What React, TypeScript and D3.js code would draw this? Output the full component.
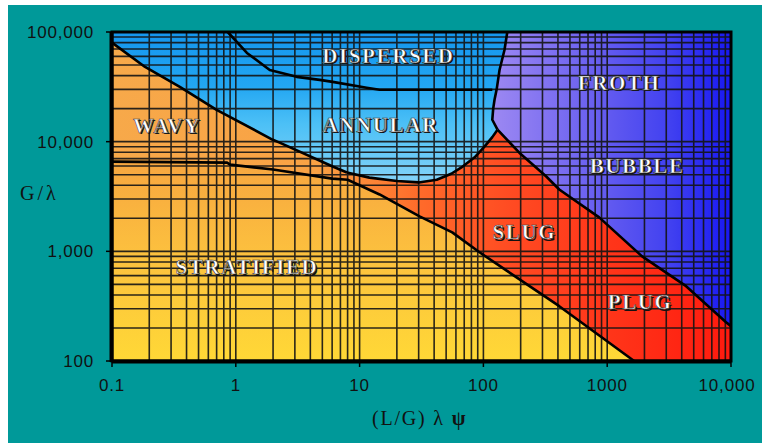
import React from 'react';
import { scaleLog, line, range } from 'd3';

// boundary curves, [x = (L/G)λψ, y = G/λ]
const wavyTop: [number, number][] = [
  [0.1, 80000], [0.185, 48000], [0.353, 31600], [0.7, 19500], [1.99, 10400], [2.26, 9800], [6.06, 5930], [7.9, 5230],
];
const annularBottom: [number, number][] = [
  [7.9, 5230], [12, 4700], [20, 4380], [30, 4250], [42, 4500], [55, 5100], [68, 5930], [85, 7200], [102, 9010], [118, 11000], [130, 12850],
];
const frothLeft: [number, number][] = [
  [130, 12850], [118, 15850], [120, 20000], [123, 24100], [128, 30000], [135, 45000], [148, 68600], [156, 100000],
];
const dispersedLine: [number, number][] = [
  [0.86, 100000], [1.23, 64400], [1.88, 45100], [3.1, 39000], [4.76, 36600], [6.06, 35100], [11.4, 31000], [14.5, 29700], [118, 29700],
];
const slugBubble: [number, number][] = [
  [130, 12850], [195, 7940], [322, 4810], [410, 3660], [861, 2040], [1915, 900], [4339, 481], [9120, 226], [10000, 208],
];
const stratTop: [number, number][] = [
  [0.1, 6580], [0.85, 6440], [0.9, 6180], [2, 5570], [6, 4600], [8, 4500], [14.5, 3300], [30.5, 2080], [56, 1490], [93, 980], [410, 316], [1650, 100],
];

const xTicks = [0.1, 1, 10, 100, 1000, 10000];
const xTickLabels = ['0.1', '1', '10', '100', '1000', '10,000'];
const yTicks = [100, 1000, 10000, 100000];
const yTickLabels = ['100', '1,000', '10,000', '100,000'];

const regionNames = ['DISPERSED', 'ANNULAR', 'WAVY', 'STRATIFIED', 'SLUG', 'PLUG', 'FROTH', 'BUBBLE'];
const regionAt: [number, number][] = [
  [17.1, 52300], [14.8, 12300], [0.278, 12100], [1.23, 618], [214, 1285], [1845, 297], [1250, 29700], [1745, 5230],
];

export default function App() {
  const W = 762, H = 443;
  const x = scaleLog().domain([0.1, 10000]).range([112, 731]);
  const y = scaleLog().domain([100, 100000]).range([361, 32]);
  const path = line<[number, number]>().x(d => x(d[0])).y(d => y(d[1]));
  const closed = (pts: [number, number][]) => path(pts) + 'Z';
  const rev = (a: [number, number][]) => a.slice().reverse();

  const stratPoly = closed([...stratTop, [0.1, 100]]);
  const redPoly = closed([
    ...wavyTop, ...annularBottom.slice(1), ...slugBubble.slice(1), [10000, 100], ...rev(stratTop),
  ]);
  const bluePoly = closed([[0.1, 100000], [156, 100000], ...rev(frothLeft).slice(1), ...rev(annularBottom).slice(1), ...rev(wavyTop).slice(1)]);
  const purplePoly = closed([[156, 100000], [10000, 100000], ...rev(slugBubble), ...frothLeft.slice(1)]);

  const gridX: number[] = [];
  const gridY: number[] = [];
  for (const d of [0.1, 1, 10, 100, 1000]) range(1, 10).forEach(k => gridX.push(d * k));
  for (const d of [100, 1000, 10000]) range(1, 10).forEach(k => gridY.push(d * k));

  return (
    <svg width={W} height={H} style={{ position: 'absolute', left: 0, top: 0 }}>
      <defs>
        <linearGradient id="gStrat" gradientUnits="userSpaceOnUse" x1="0" y1={y(7000)} x2="0" y2={y(100)}>
          <stop offset="0" stopColor="#f7a540" />
          <stop offset="0.5" stopColor="#fcc23e" />
          <stop offset="1" stopColor="#ffd836" />
        </linearGradient>
        <linearGradient id="gRed" gradientUnits="userSpaceOnUse" x1={x(0.1)} y1="0" x2={x(10000)} y2="0">
          <stop offset="0" stopColor="#f7a94a" />
          <stop offset="0.33" stopColor="#f9a244" />
          <stop offset="0.5" stopColor="#ff6a2a" />
          <stop offset="0.65" stopColor="#ff4a22" />
          <stop offset="1" stopColor="#ff1a0e" />
        </linearGradient>
        <linearGradient id="gBlue" gradientUnits="userSpaceOnUse" x1="0" y1={y(100000)} x2="0" y2={y(4000)}>
          <stop offset="0" stopColor="#1596ee" />
          <stop offset="0.35" stopColor="#22a6f2" />
          <stop offset="0.6" stopColor="#4cc0f6" />
          <stop offset="1" stopColor="#86d4f8" />
        </linearGradient>
        <linearGradient id="gPurple" gradientUnits="userSpaceOnUse" x1={x(120)} y1="0" x2={x(10000)} y2="0">
          <stop offset="0" stopColor="#9c88f2" />
          <stop offset="0.4" stopColor="#6c62f0" />
          <stop offset="0.75" stopColor="#4040f0" />
          <stop offset="1" stopColor="#1818f2" />
        </linearGradient>
      </defs>

      <rect x={8} y={5} width={W - 8} height={H - 5} fill="#009999" />

      <path d={stratPoly} fill="url(#gStrat)" />
      <path d={redPoly} fill="url(#gRed)" />
      <path d={bluePoly} fill="url(#gBlue)" />
      <path d={purplePoly} fill="url(#gPurple)" />

      <g stroke="#141414" strokeWidth={1.6} opacity={0.9}>
        {gridX.map((v, i) => (
          <line key={'gx' + i} x1={x(v)} x2={x(v)} y1={y(100000)} y2={y(100)} />
        ))}
        {gridY.map((v, i) => (
          <line key={'gy' + i} x1={x(0.1)} x2={x(10000)} y1={y(v)} y2={y(v)} />
        ))}
      </g>

      <g fill="none" stroke="#000" strokeWidth={2.6} strokeLinejoin="round">
        {[wavyTop, annularBottom, frothLeft, dispersedLine, slugBubble, stratTop].map((c, i) => (
          <path key={'b' + i} d={path(c) || ''} />
        ))}
      </g>

      <rect x={x(0.1)} y={y(100000)} width={x(10000) - x(0.1)} height={y(100) - y(100000)} fill="none" stroke="#000" strokeWidth={3} />
      <line x1={x(0.1) - 0.5} x2={x(0.1) - 0.5} y1={y(100000)} y2={y(100) + 1} stroke="#000" strokeWidth={4} />
      <line x1={x(0.1)} x2={x(10000)} y1={y(100) + 0.5} y2={y(100) + 0.5} stroke="#000" strokeWidth={4} />

      <g stroke="#000" strokeWidth={1.5}>
        {yTicks.map(v => <line key={'ty' + v} x1={x(0.1) - 6} x2={x(0.1)} y1={y(v)} y2={y(v)} />)}
        {xTicks.map(v => <line key={'tx' + v} x1={x(v)} x2={x(v)} y1={y(100)} y2={y(100) + 6} />)}
      </g>

      <g fontFamily="Liberation Sans, Arial, sans-serif" fontSize={17} fill="#111" letterSpacing={0.8}>
        {yTicks.map((v, i) => (
          <text key={'ly' + v} x={94} y={y(v)} dy="0.36em" textAnchor="end">{yTickLabels[i]}</text>
        ))}
        {xTicks.map((v, i) => (
          <text key={'lx' + v} x={x(v) - (i === 5 ? 4 : 0)} y={391} textAnchor="middle">{xTickLabels[i]}</text>
        ))}
      </g>

      <g fontFamily="Liberation Serif, Times New Roman, serif" fill="#111" fontSize={20}>
        <text x={20} y={200} letterSpacing={3}>G/λ</text>
        <text x={372} y={425} letterSpacing={1.8}>(L/G) λ <tspan fontWeight="bold">ψ</tspan></text>
      </g>

      <g fontFamily="Liberation Serif, Times New Roman, serif" fontSize={21} fontWeight="bold" textAnchor="middle" letterSpacing={1.6}>
        {regionNames.map((n, i) => (
          <g key={n}>
            <text x={x(regionAt[i][0]) + 1.5} y={y(regionAt[i][1]) + 1.5} fill="#111">{n}</text>
            <text x={x(regionAt[i][0])} y={y(regionAt[i][1])} fill="#fff" stroke="#333" strokeWidth={0.6}>{n}</text>
          </g>
        ))}
      </g>
    </svg>
  );
}
